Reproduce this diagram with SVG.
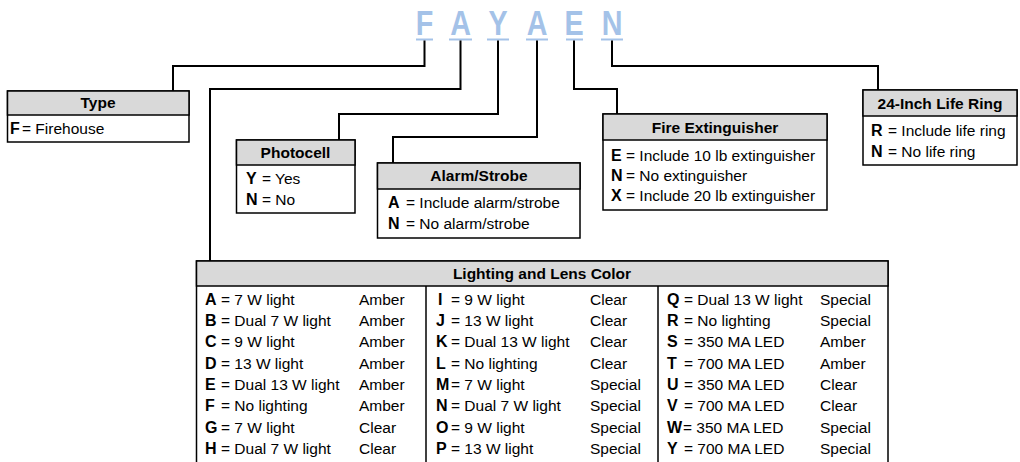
<svg xmlns="http://www.w3.org/2000/svg" width="1020" height="462" viewBox="0 0 1020 462">
<style>
text{font-family:"Liberation Sans",Arial,sans-serif;fill:#000}
.h{font-weight:bold;font-size:15.5px;text-anchor:middle}
.t{font-size:15.5px}
.b{font-weight:bold;font-size:16px}
.hd{fill:#d9d9d9;stroke:#000;stroke-width:1.5}
.bx{fill:#fff;stroke:#000;stroke-width:1.5}
.cn{fill:none;stroke:#000;stroke-width:2}
.code{font-weight:bold;font-size:35px;fill:#a4c2e8;text-anchor:middle}
.ul{stroke:#a4c2e8;stroke-width:2}
</style>
<g id="code">
<text class="code" transform="translate(424.5,35) scale(0.82,1)">F</text>
<text class="code" transform="translate(460.5,35) scale(0.82,1)">A</text>
<text class="code" transform="translate(498,35) scale(0.82,1)">Y</text>
<text class="code" transform="translate(537,35) scale(0.82,1)">A</text>
<text class="code" transform="translate(574,35) scale(0.82,1)">E</text>
<text class="code" transform="translate(612,35) scale(0.82,1)">N</text>
<line class="ul" x1="416" y1="39.5" x2="433" y2="39.5"/>
<line class="ul" x1="449" y1="39.5" x2="472" y2="39.5"/>
<line class="ul" x1="487" y1="39.5" x2="509" y2="39.5"/>
<line class="ul" x1="526" y1="39.5" x2="548" y2="39.5"/>
<line class="ul" x1="566" y1="39.5" x2="583" y2="39.5"/>
<line class="ul" x1="601" y1="39.5" x2="623" y2="39.5"/>
</g>
<g id="connectors">
<polyline class="cn" points="424.5,40.5 424.5,66 173,66 173,91"/>
<polyline class="cn" points="460.5,40.5 460.5,89 210,89 210,261"/>
<polyline class="cn" points="498,40.5 498,114 339,114 339,140"/>
<polyline class="cn" points="537,40.5 537,137 393,137 393,163"/>
<polyline class="cn" points="574,40.5 574,89 617,89 617,114"/>
<polyline class="cn" points="612,40.5 612,66 878,66 878,90"/>
</g>
<g id="type">
<rect class="bx" x="7.5" y="91" width="181.5" height="51"/>
<rect class="hd" x="7.5" y="91" width="181.5" height="24"/>
<text class="h" x="98" y="108">Type</text>
<text class="b" x="10" y="134">F</text><text class="t" x="22" y="134">= Firehouse</text>
</g>
<g id="photocell">
<rect class="bx" x="236.5" y="140" width="118.5" height="73"/>
<rect class="hd" x="236.5" y="140" width="118.5" height="25"/>
<text class="h" x="295.5" y="158">Photocell</text>
<text class="b" x="246" y="184">Y</text><text class="t" x="262" y="184">= Yes</text>
<text class="b" x="246" y="205">N</text><text class="t" x="262" y="205">= No</text>
</g>
<g id="alarm">
<rect class="bx" x="377.5" y="163" width="202.5" height="75"/>
<rect class="hd" x="377.5" y="163" width="202.5" height="26"/>
<text class="h" x="479" y="181">Alarm/Strobe</text>
<text class="b" x="388" y="208">A</text><text class="t" x="406" y="208">= Include alarm/strobe</text>
<text class="b" x="388" y="229">N</text><text class="t" x="406" y="229">= No alarm/strobe</text>
</g>
<g id="extinguisher">
<rect class="bx" x="603" y="114" width="224" height="96"/>
<rect class="hd" x="603" y="114" width="224" height="26"/>
<text class="h" x="715" y="133">Fire Extinguisher</text>
<text class="b" x="611" y="161">E</text><text class="t" x="626" y="161">= Include 10 lb extinguisher</text>
<text class="b" x="611" y="181">N</text><text class="t" x="626" y="181">= No extinguisher</text>
<text class="b" x="611" y="201">X</text><text class="t" x="626" y="201">= Include 20 lb extinguisher</text>
</g>
<g id="lifering">
<rect class="bx" x="863" y="90" width="154" height="75"/>
<rect class="hd" x="863" y="90" width="154" height="26"/>
<text class="h" x="940" y="109">24-Inch Life Ring</text>
<text class="b" x="871" y="136">R</text><text class="t" x="888" y="136">= Include life ring</text>
<text class="b" x="871" y="157">N</text><text class="t" x="888" y="157">= No life ring</text>
</g>
<g id="lighting">
<rect class="bx" x="196.5" y="261" width="691.5" height="210"/>
<rect class="hd" x="196.5" y="261" width="691.5" height="25"/>
<line stroke="#000" stroke-width="1.5" x1="426" y1="286" x2="426" y2="471"/>
<line stroke="#000" stroke-width="1.5" x1="658" y1="286" x2="658" y2="471"/>
<text class="h" x="542" y="279">Lighting and Lens Color</text>
<g class="c1">
<text class="b" x="205" y="305">A</text><text class="t" x="221" y="305">= 7 W light</text><text class="t" x="359" y="305">Amber</text>
<text class="b" x="205" y="326">B</text><text class="t" x="221" y="326">= Dual 7 W light</text><text class="t" x="359" y="326">Amber</text>
<text class="b" x="205" y="347">C</text><text class="t" x="221" y="347">= 9 W light</text><text class="t" x="359" y="347">Amber</text>
<text class="b" x="205" y="369">D</text><text class="t" x="221" y="369">= 13 W light</text><text class="t" x="359" y="369">Amber</text>
<text class="b" x="205" y="390">E</text><text class="t" x="221" y="390">= Dual 13 W light</text><text class="t" x="359" y="390">Amber</text>
<text class="b" x="205" y="411">F</text><text class="t" x="221" y="411">= No lighting</text><text class="t" x="359" y="411">Amber</text>
<text class="b" x="205" y="433">G</text><text class="t" x="221" y="433">= 7 W light</text><text class="t" x="359" y="433">Clear</text>
<text class="b" x="205" y="454">H</text><text class="t" x="221" y="454">= Dual 7 W light</text><text class="t" x="359" y="454">Clear</text>
</g>
<g class="c2">
<text class="b" x="438" y="305">I</text><text class="t" x="451" y="305">= 9 W light</text><text class="t" x="590" y="305">Clear</text>
<text class="b" x="436" y="326">J</text><text class="t" x="451" y="326">= 13 W light</text><text class="t" x="590" y="326">Clear</text>
<text class="b" x="436" y="347">K</text><text class="t" x="451" y="347">= Dual 13 W light</text><text class="t" x="590" y="347">Clear</text>
<text class="b" x="436" y="369">L</text><text class="t" x="451" y="369">= No lighting</text><text class="t" x="590" y="369">Clear</text>
<text class="b" x="436" y="390">M</text><text class="t" x="451" y="390">= 7 W light</text><text class="t" x="590" y="390">Special</text>
<text class="b" x="436" y="411">N</text><text class="t" x="451" y="411">= Dual 7 W light</text><text class="t" x="590" y="411">Special</text>
<text class="b" x="436" y="433">O</text><text class="t" x="451" y="433">= 9 W light</text><text class="t" x="590" y="433">Special</text>
<text class="b" x="436" y="454">P</text><text class="t" x="451" y="454">= 13 W light</text><text class="t" x="590" y="454">Special</text>
</g>
<g class="c3">
<text class="b" x="667" y="305">Q</text><text class="t" x="684" y="305">= Dual 13 W light</text><text class="t" x="820" y="305">Special</text>
<text class="b" x="667" y="326">R</text><text class="t" x="684" y="326">= No lighting</text><text class="t" x="820" y="326">Special</text>
<text class="b" x="667" y="347">S</text><text class="t" x="684" y="347">= 350 MA LED</text><text class="t" x="820" y="347">Amber</text>
<text class="b" x="667" y="369">T</text><text class="t" x="684" y="369">= 700 MA LED</text><text class="t" x="820" y="369">Amber</text>
<text class="b" x="667" y="390">U</text><text class="t" x="684" y="390">= 350 MA LED</text><text class="t" x="820" y="390">Clear</text>
<text class="b" x="667" y="411">V</text><text class="t" x="684" y="411">= 700 MA LED</text><text class="t" x="820" y="411">Clear</text>
<text class="b" x="667" y="433">W</text><text class="t" x="683" y="433">= 350 MA LED</text><text class="t" x="820" y="433">Special</text>
<text class="b" x="667" y="454">Y</text><text class="t" x="684" y="454">= 700 MA LED</text><text class="t" x="820" y="454">Special</text>
</g>
</g>
</svg>
